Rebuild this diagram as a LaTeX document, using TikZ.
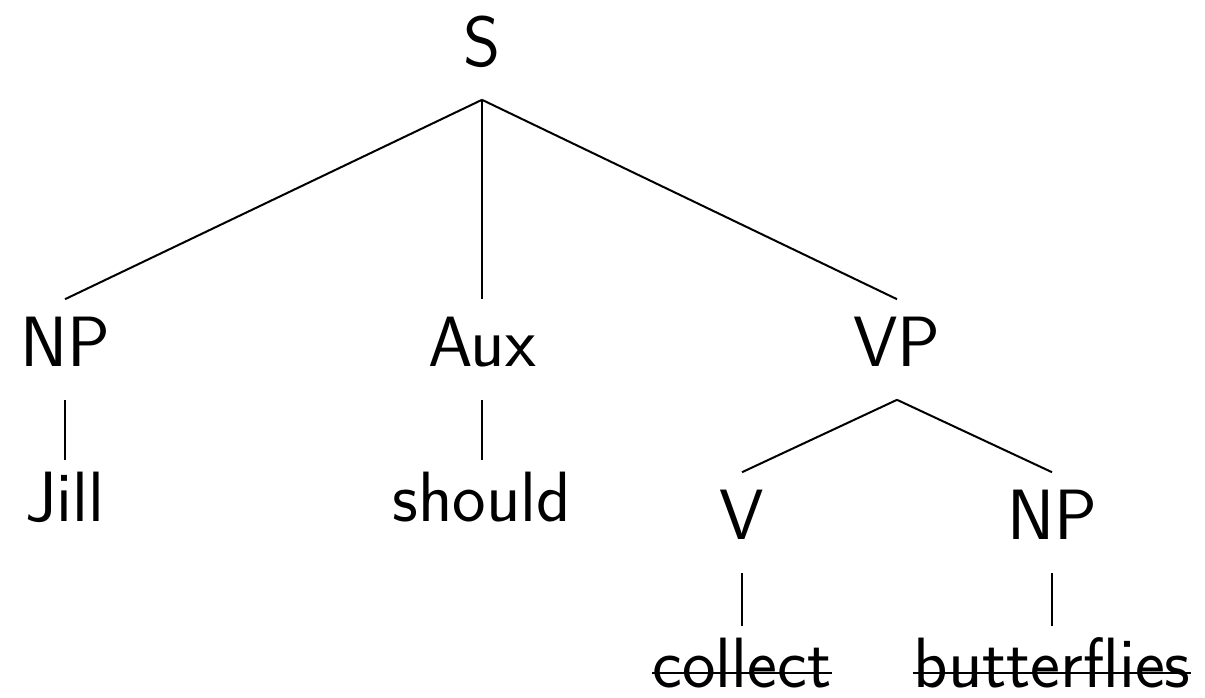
\documentclass[tikz,border=0pt]{standalone}
\begin{document}
\begin{tikzpicture}[x=0.25pt,y=-0.25pt,
  every node/.style={font=\fontsize{17.8}{21}\selectfont\sffamily, anchor=base, inner xsep=0pt, inner ysep=4pt},
  cat/.style={text height=12.5pt, text depth=4.25pt},
  leaf/.style={text height=11pt, text depth=4.25pt},
  branch/.style={line width=0.5pt},
  strike/.style={line width=0.5pt}]
\useasboundingbox (0,0) rectangle (1205,697);
% categories
\node[cat] (S)   at (482,66)  {S};
\node[cat] (NPa) at (65,366)  {NP};
\node[cat] (Aux) at (482,366) {Aux};
\node[cat] (VP)  at (897,366) {VP};
\node[cat] (V)   at (742,539) {V};
\node[cat] (NPb) at (1052,539) {NP};
% words
\node[leaf] (Jill)        at (65,521)   {Jill};
\node[leaf] (should)      at (482,521)  {should};
\node[leaf] (collect)     at (742,687)  {collect};
\node[leaf] (butterflies) at (1052,687) {butterflies};
% struck-out words
\draw[strike] ([yshift=3.4pt]collect.base west) -- ([yshift=3.4pt]collect.base east);
\draw[strike] ([yshift=3.4pt]butterflies.base west) -- ([yshift=3.4pt]butterflies.base east);
% branches
\draw[branch] (S.south) -- (NPa.north);
\draw[branch] (S.south) -- (Aux.north);
\draw[branch] (S.south) -- (VP.north);
\draw[branch] (NPa.south) -- (Jill.north);
\draw[branch] (Aux.south) -- (should.north);
\draw[branch] (VP.south) -- (V.north);
\draw[branch] (VP.south) -- (NPb.north);
\draw[branch] (V.south) -- (collect.north);
\draw[branch] (NPb.south) -- (butterflies.north);
\end{tikzpicture}
\end{document}
